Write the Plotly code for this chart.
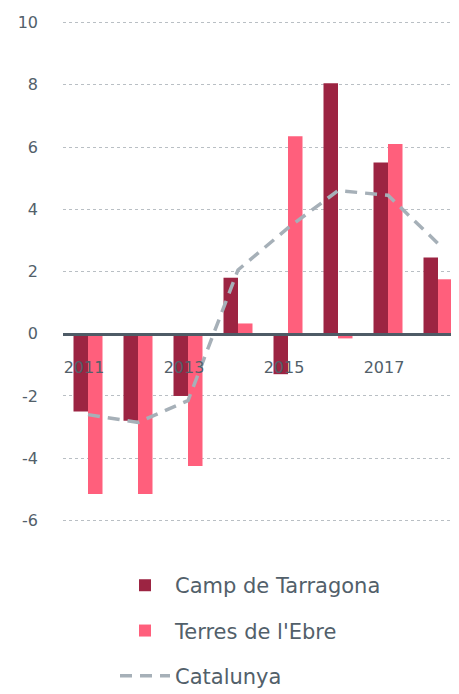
import plotly.graph_objects as go

years = [2011, 2012, 2013, 2014, 2015, 2016, 2017, 2018]
camp_tarragona = [-2.5, -2.8, -2.0, 1.8, -1.3, 8.05, 5.5, 2.45]
terres_ebre = [-5.15, -5.15, -4.25, 0.33, 6.35, -0.15, 6.1, 1.75]
catalunya = [-2.6, -2.85, -2.15, 2.05, 3.4, 4.6, 4.45, 2.9]
x_ticks = [2011, 2013, 2015, 2017]
y_ticks = [-6, -4, -2, 0, 2, 4, 6, 8, 10]
y_tick_labels = ["-6", "-4", "-2", "0", "2", "4", "6", "8", "10"]

TEXT = "#52606a"
FONT = "DejaVu Sans"
y_range = [-6.05, 10.05]

fig = go.Figure()
fig.add_trace(go.Bar(x=years, y=camp_tarragona, name="Camp de Tarragona",
                     marker=dict(color="#9c2442", line=dict(width=0)), legendgroup="a"))
fig.add_trace(go.Bar(x=years, y=terres_ebre, name="Terres de l'Ebre",
                     marker=dict(color="#ff5f7c", line=dict(width=0)), legendgroup="b"))
fig.add_trace(go.Scatter(x=years, y=catalunya, name="Catalunya", mode="lines",
                         line=dict(color="#a6b0b8", width=3.5, dash="12px,8px"),
                         legendgroup="c"))

zero_pos = (0 - y_range[0]) / (y_range[1] - y_range[0])

fig.update_layout(
    width=459, height=694,
    margin=dict(l=55, r=4, t=13, b=180, autoexpand=False),
    plot_bgcolor="white", paper_bgcolor="white",
    barmode="group", bargap=0.42, bargroupgap=0,
    font=dict(family=FONT, size=16, color=TEXT),
    showlegend=True,
    legend=dict(orientation="v", x=0.13, xanchor="left", y=-0.086, yanchor="top",
                traceorder="grouped", tracegroupgap=15,
                font=dict(family=FONT, size=21, color=TEXT), itemwidth=50),
    xaxis=dict(tickvals=x_ticks, ticktext=[str(v) for v in x_ticks],
               range=[2010.5, 2018.5], anchor="free", position=zero_pos,
               showline=True, linecolor="#4e5b66", linewidth=2.5,
               showgrid=False, zeroline=False, ticks="", ticklabelstandoff=18,
               ticklabelshift=-4,
               tickfont=dict(family=FONT, size=16, color=TEXT), layer="above traces"),
    yaxis=dict(range=y_range, tickvals=y_ticks, ticktext=y_tick_labels,
               showgrid=True, gridcolor="#b9bfc4",
               griddash="dot", gridwidth=1, zeroline=False, showline=False,
               ticks="", ticklabelstandoff=24,
               tickfont=dict(family=FONT, size=16, color=TEXT)),
)

fig.write_html("out.html")
